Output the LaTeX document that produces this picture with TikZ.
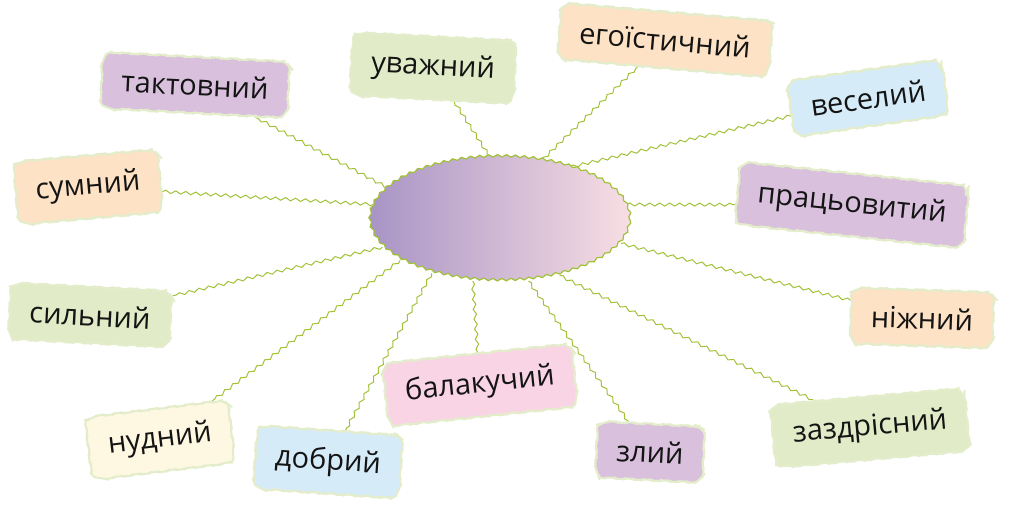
\documentclass[tikz,border=0pt]{standalone}
\usepackage{fontspec}
\setmainfont{Open Sans}
\usetikzlibrary{shapes.geometric,decorations.pathmorphing,backgrounds}

\definecolor{lilac}{HTML}{D9C1DD}
\definecolor{leaf}{HTML}{E2EBC8}
\definecolor{peach}{HTML}{FDE2C6}
\definecolor{sky}{HTML}{D6EBF8}
\definecolor{rose}{HTML}{F8D4E4}
\definecolor{cream}{HTML}{FEF8E2}
\definecolor{boxedge}{HTML}{E4EDCB}
\definecolor{wire}{HTML}{A2C13A}
\definecolor{ellLeft}{HTML}{A894C5}
\definecolor{ellRight}{HTML}{F8DEE3}

\begin{document}
\begin{tikzpicture}[x=1pt,y=1pt,
    word/.style={rectangle,decorate,
      decoration={zigzag,amplitude=2.4pt,segment length=18pt},rounded corners=7pt,
      draw=boxedge,line width=2pt,line join=round,inner xsep=20pt,inner ysep=17pt,
      text=black!92,font=\fontsize{29}{32}\selectfont},
    centre/.style={ellipse,minimum width=260pt,minimum height=124pt,
      left color=ellLeft,right color=ellRight,draw=wire,line width=1.2pt,
      decorate,decoration={snake,amplitude=1.2pt,segment length=9pt}},
    wavy/.style={draw=wire,line width=1pt,decorate,
      decoration={snake,amplitude=1.5pt,segment length=10pt}}
    ]
  \useasboundingbox (0,0) rectangle (1009,507);

  \node(mind) [centre] at (500,287) {};

  \node(taktovnyi) [word,fill=lilac,rotate=-3] at (195,422) {тактовний};
  \node(uvazhnyi) [word,fill=leaf,rotate=-3] at (433,439) {уважний};
  \node(egoist) [word,fill=peach,rotate=-5] at (665,467) {егоїстичний};
  \node(veselyi) [word,fill=sky,rotate=8] at (868,409) {веселий};
  \node(sumnyi) [word,fill=peach,rotate=5] at (88,320) {сумний};
  \node(pratsovytyi) [word,fill=lilac,rotate=-6] at (852,302) {працьовитий};
  \node(sylnyi) [word,fill=leaf,rotate=-3] at (90,192) {сильний};
  \node(nizhnyi) [word,fill=peach,rotate=-2] at (922,189) {ніжний};
  \node(balakuchyi) [word,fill=rose,rotate=6] at (480,122) {балакучий};
  \node(nudnyi) [word,fill=cream,rotate=7] at (160,67) {нудний};
  \node(dobryi) [word,fill=sky,rotate=-4] at (328,45) {добрий};
  \node(zlyi) [word,fill=lilac,rotate=-3] at (650,55) {злий};
  \node(zazdrisnyi) [word,fill=leaf,rotate=5] at (870,79) {заздрісний};

  % wavy connectors under the boxes
  \begin{scope}[on background layer]
    \draw[wavy] (mind.164) -- (taktovnyi);
    \draw[wavy] (mind.99) -- (uvazhnyi);
    \draw[wavy] (mind.55) -- (egoist);
    \draw[wavy] (mind.37) -- (veselyi);
    \draw[wavy] (mind.173) -- (sumnyi);
    \draw[wavy] (mind.7) -- (pratsovytyi);
    \draw[wavy] (mind.193) -- (sylnyi);
    \draw[wavy] (mind.349) -- (nizhnyi);
    \draw[wavy] (mind.246) -- (balakuchyi);
    \draw[wavy] (mind.202) -- (nudnyi);
    \draw[wavy] (mind.218) -- (dobryi);
    \draw[wavy] (mind.295) -- (zlyi);
    \draw[wavy] (mind.317) -- (zazdrisnyi);
  \end{scope}
\end{tikzpicture}
\end{document}
